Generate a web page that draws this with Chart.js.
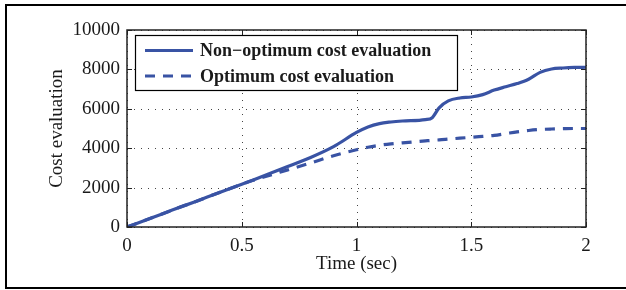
<!DOCTYPE html>
<html>
<head>
<meta charset="utf-8">
<script src="https://cdn.jsdelivr.net/npm/chart.js@4"></script>
<style>
  html, body { margin: 0; padding: 0; background: #fff; }
  #wrap { width: 626px; height: 290px; position: relative; }
</style>
</head>
<body>
<div id="wrap"><canvas id="cost"></canvas></div>
<script>
const ctx = document.getElementById('cost')

// time (sec)
const time = [0, 0.1, 0.2, 0.3, 0.4, 0.5, 0.55, 0.6, 0.7, 0.8, 0.9, 1.0, 1.05, 1.1, 1.15, 1.2, 1.3, 1.33, 1.36, 1.4, 1.45, 1.5, 1.55, 1.6, 1.65, 1.7, 1.75, 1.8, 1.85, 1.9, 1.95, 2.0]
const nonOptimum = [0, 430, 870, 1300, 1740, 2170, 2390, 2620, 3070, 3530, 4080, 4800, 5080, 5250, 5330, 5380, 5450, 5550, 6050, 6400, 6550, 6600, 6720, 6950, 7120, 7280, 7500, 7850, 8020, 8070, 8100, 8110]
const optimum = [0, 430, 870, 1300, 1740, 2170, 2370, 2550, 2900, 3250, 3620, 3920, 4050, 4150, 4220, 4270, 4370, 4400, 4420, 4460, 4510, 4550, 4600, 4650, 4740, 4830, 4900, 4950, 4975, 4990, 5000, 5000]
const labels = ['Non\u2212optimum cost evaluation', 'Optimum cost evaluation']

const blue = 'rgb(57, 83, 164)'
const serif = '"Liberation Serif", "Times New Roman", serif'
const ink = '#1a1a1a'

const frame = {
  id: 'frame',
  beforeDraw: (chart) => {
    const c = chart.ctx
    c.save()
    c.strokeStyle = '#000'
    c.lineWidth = 2
    c.strokeRect(6, 5, 700, 283)
    c.restore()
  },
  beforeDatasetsDraw: (chart) => {
    // dotted grid, matlab style
    const c = chart.ctx
    const a = chart.chartArea
    const xs = chart.scales.x, ys = chart.scales.y
    c.save()
    c.strokeStyle = '#444'
    c.lineWidth = 1
    c.setLineDash([1, 6])
    xs.ticks.forEach(t => {
      const px = Math.round(xs.getPixelForValue(t.value)) + 0.5
      c.beginPath()
      c.moveTo(px, a.bottom); c.lineTo(px, a.top)
      c.stroke()
    })
    ys.ticks.forEach(t => {
      const py = Math.round(ys.getPixelForValue(t.value)) + 0.5
      c.beginPath()
      c.moveTo(a.left, py); c.lineTo(a.right, py)
      c.stroke()
    })
    c.restore()
  },
  afterDraw: (chart) => {
    const c = chart.ctx
    const a = chart.chartArea
    const xs = chart.scales.x, ys = chart.scales.y
    c.save()
    c.strokeStyle = '#222'
    c.lineWidth = 1.5
    c.strokeRect(a.left, a.top, a.right - a.left, a.bottom - a.top)
    c.lineWidth = 1
    xs.ticks.forEach(t => {
      const px = Math.round(xs.getPixelForValue(t.value)) + 0.5
      c.beginPath()
      c.moveTo(px, a.bottom); c.lineTo(px, a.bottom - 5)
      c.moveTo(px, a.top); c.lineTo(px, a.top + 5)
      c.stroke()
    })
    ys.ticks.forEach(t => {
      const py = Math.round(ys.getPixelForValue(t.value)) + 0.5
      c.beginPath()
      c.moveTo(a.left, py); c.lineTo(a.left + 5, py)
      c.moveTo(a.right, py); c.lineTo(a.right - 5, py)
      c.stroke()
    })
    // legend box
    const bx = 135, by = 35, bw = 322, bh = 55
    c.fillStyle = '#fff'
    c.fillRect(bx, by, bw, bh)
    c.strokeStyle = '#000'
    c.lineWidth = 1.2
    c.strokeRect(bx + 0.5, by + 0.5, bw, bh)
    chart.data.datasets.forEach((ds, i) => {
      const y = 50.5 + i * 25.5
      c.strokeStyle = ds.borderColor
      c.lineWidth = 3
      c.setLineDash(ds.borderDash || [])
      c.beginPath()
      c.moveTo(145, y); c.lineTo(193, y)
      c.stroke()
      c.setLineDash([])
      c.fillStyle = ink
      c.font = 'bold 18px ' + serif
      c.textBaseline = 'middle'
      c.fillText(ds.label, 200, y + 1)
    })
    c.restore()
  }
}

new Chart(ctx, {
  type: 'line',
  data: {
    datasets: [
      {
        label: labels[0],
        data: time.map((t, i) => ({ x: t, y: nonOptimum[i] })),
        borderColor: blue,
        borderWidth: 3.2,
        pointRadius: 0,
        cubicInterpolationMode: 'monotone',
      },
      {
        label: labels[1],
        data: time.map((t, i) => ({ x: t, y: optimum[i] })),
        borderColor: blue,
        borderWidth: 3.2,
        borderDash: [10, 8],
        pointRadius: 0,
        cubicInterpolationMode: 'monotone',
      },
    ]
  },
  options: {
    responsive: true,
    maintainAspectRatio: false,
    animation: false,
    layout: { padding: { left: 0, top: 30, right: 40, bottom: 0 } },
    plugins: {
      legend: { display: false },
      tooltip: { enabled: false },
    },
    scales: {
      x: {
        type: 'linear',
        min: 0,
        max: 2,
        ticks: {
          stepSize: 0.5,
          padding: 8,
          color: ink,
          font: { family: serif, size: 19 },
          maxRotation: 0,
          callback: (v) => String(v),
        },
        grid: { display: false, drawTicks: false },
        border: { display: false },
        title: {
          display: true,
          text: 'Time (sec)',
          color: ink,
          font: { family: serif, size: 19 },
          padding: { top: 0, bottom: 15 },
        },
        afterFit: (s) => { s.height = 63 },
      },
      y: {
        min: 0,
        max: 10000,
        ticks: {
          stepSize: 2000,
          padding: 7,
          color: ink,
          font: { family: serif, size: 19 },
          callback: (v) => String(v),
        },
        grid: { display: false, drawTicks: false },
        border: { display: false },
        title: {
          display: true,
          text: 'Cost evaluation',
          color: ink,
          font: { family: serif, size: 19 },
          padding: { top: 46, bottom: 0 },
        },
        afterFit: (s) => { s.width = 127 },
      }
    }
  },
  plugins: [frame]
})
</script>
</body>
</html>
